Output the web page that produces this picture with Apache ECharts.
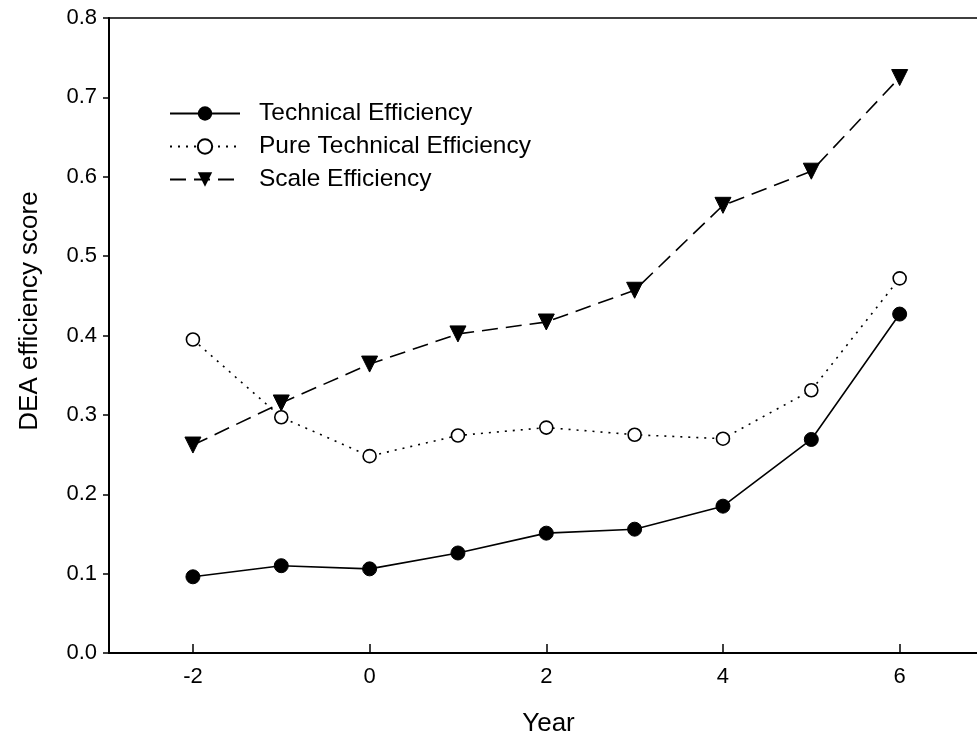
<!DOCTYPE html>
<html>
<head>
<meta charset="utf-8">
<script src="https://cdn.jsdelivr.net/npm/echarts@6/dist/echarts.min.js"></script>
<style>
html,body{margin:0;padding:0;background:#fff;}
#chart{width:977px;height:746px;}
</style>
</head>
<body>
<div id="chart"></div>
<script>
// 数据
var years = [-2, -1, 0, 1, 2, 3, 4, 5, 6];
var technical = [0.096, 0.110, 0.106, 0.126, 0.151, 0.156, 0.185, 0.269, 0.427];
var pureTechnical = [0.395, 0.297, 0.248, 0.274, 0.284, 0.275, 0.270, 0.331, 0.472];
var scale = [0.262, 0.315, 0.364, 0.402, 0.417, 0.457, 0.564, 0.607, 0.725];
var xTicks = [-2, 0, 2, 4, 6];

function pairs(vals){
    var out = [];
    for(var i = 0; i < years.length; i++){
        out.push([years[i], vals[i]]);
    }
    return out;
}

var font = 'Liberation Sans, Arial, Helvetica, sans-serif';
var mychart = echarts.init(document.getElementById('chart'));
var option = {
    animation: false,
    backgroundColor: '#fff',
    textStyle: { fontFamily: font },
    graphic: [{
        type: 'text',
        left: 4,
        top: -24,
        style: { text: '(a)', fontSize: 24, fontFamily: font, fill: '#000' }
    }, {
        // y轴标题
        type: 'text',
        x: 30,
        y: 311,
        rotation: Math.PI / 2,
        style: {
            text: 'DEA efficiency score', fontSize: 26, fontFamily: font, fill: '#000',
            align: 'center', verticalAlign: 'middle'
        }
    }],
    grid: {
        left: 109,
        top: 18,
        right: -11,
        bottom: 93,
        outerBoundsMode: 'none',
        containLabel: false,
        show: true,
        borderColor: '#000',
        borderWidth: 1.5
    },
    legend: {
        left: 169,
        top: 101,
        padding: 0,
        orient: 'vertical',
        itemWidth: 70,
        itemHeight: 18,
        itemGap: 8,
        textStyle: { fontSize: 24.5, lineHeight: 20, color: '#000', fontFamily: font, padding: [0, 0, 0, 14] },
        data: ['Technical Efficiency', 'Pure Technical Efficiency', 'Scale Efficiency']
    },
    xAxis: {
        type: 'value',
        min: -2.95,
        max: 7,
        name: 'Year',
        nameLocation: 'middle',
        nameGap: 58,
        nameTextStyle: { fontSize: 26, color: '#000', fontFamily: font },
        splitLine: { show: false },
        axisLine: { onZero: false, lineStyle: { color: '#000', width: 2 } },
        axisTick: { inside: true, length: 9, customValues: xTicks, lineStyle: { color: '#000', width: 1.5 } },
        axisLabel: { customValues: xTicks, fontSize: 22, color: '#000', margin: 13, fontFamily: font }
    },
    yAxis: {
        type: 'value',
        min: 0,
        max: 0.8,
        interval: 0.1,
        splitLine: { show: false },
        axisLine: { onZero: false, lineStyle: { color: '#000', width: 2 } },
        axisTick: { length: 6, lineStyle: { color: '#000', width: 1.5 } },
        axisLabel: {
            fontSize: 22, color: '#000', margin: 12, fontFamily: font,
            formatter: function(v){ return v.toFixed(1); }
        }
    },
    series: [{
        name: 'Technical Efficiency',
        type: 'line',
        data: pairs(technical),
        symbol: 'circle',
        symbolSize: 14,
        itemStyle: { color: '#000', borderColor: '#000' },
        lineStyle: { color: '#000', width: 1.6, type: 'solid' }
    }, {
        name: 'Pure Technical Efficiency',
        type: 'line',
        data: pairs(pureTechnical),
        symbol: 'circle',
        symbolSize: 13,
        itemStyle: { color: '#fff', borderColor: '#000', borderWidth: 1.6 },
        lineStyle: { color: '#000', width: 1.6, type: [2, 6] }
    }, {
        name: 'Scale Efficiency',
        type: 'line',
        data: pairs(scale),
        symbol: 'triangle',
        symbolRotate: 180,
        symbolSize: 16,
        itemStyle: { color: '#000', borderColor: '#000' },
        lineStyle: { color: '#000', width: 1.6, type: [16, 8] }
    }]
};
mychart.setOption(option);
</script>
</body>
</html>
